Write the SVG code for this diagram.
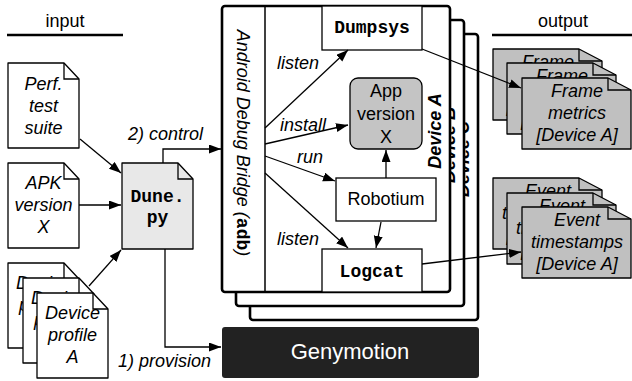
<svg xmlns="http://www.w3.org/2000/svg" width="632" height="381" viewBox="0 0 632 381">
<style>
.t{font-family:"Liberation Sans",Arial,sans-serif;font-size:18px;fill:#000}
.i{font-style:italic}
.c{text-anchor:middle}
.m{font-family:"Liberation Mono","Courier New",monospace;font-weight:bold;font-size:18px}
.doc{stroke:#000;stroke-width:1.3;stroke-linejoin:round}
.fold{fill:none;stroke:#000;stroke-width:1.3}
.w{fill:#fff}
.g{fill:#c0c0c0}
.panel{fill:#fff;stroke:#000;stroke-width:2.6}
.box{fill:#fff;stroke:#000;stroke-width:1.3}
.hd{stroke:#000;stroke-width:2.6}
.cn{fill:none;stroke:#000;stroke-width:1.3}
</style>
<defs>
<marker id="ah" markerUnits="userSpaceOnUse" markerWidth="13" markerHeight="10" refX="12" refY="4.5" orient="auto">
<path d="M0,0 L12,4.5 L0,9 Z" fill="#000"/>
</marker>
</defs>

<g id="headers">
<text class="t c" x="65" y="27">input</text>
<line class="hd" x1="7" y1="35" x2="123" y2="35"/>
<text class="t c" x="563" y="27">output</text>
<line class="hd" x1="492" y1="35" x2="632" y2="35"/>
</g>

<g id="perf-test-suite">
<path class="doc w" d="M8,63 H64 L79,79 V148 H8 Z"/>
<path class="fold" d="M64,63 V79 H79"/>
<text class="t i c" x="43.5" y="90">Perf.</text>
<text class="t i c" x="43.5" y="112">test</text>
<text class="t i c" x="43.5" y="134">suite</text>
</g>

<g id="apk-version">
<path class="doc w" d="M8,163 H64 L79,179 V248 H8 Z"/>
<path class="fold" d="M64,163 V179 H79"/>
<text class="t i c" x="43.5" y="189">APK</text>
<text class="t i c" x="43.5" y="211">version</text>
<text class="t i c" x="43.5" y="233">X</text>
</g>

<g id="device-profiles">
<path class="doc w" d="M8,263 H64 L79,279 V348 H8 Z"/>
<path class="fold" d="M64,263 V279 H79"/>
<text class="t i c" x="43.5" y="289">Device</text>
<text class="t i c" x="43.5" y="311">profile</text>
<text class="t i c" x="43.5" y="333">C</text>
<path class="doc w" d="M23,278 H79 L94,294 V363 H23 Z"/>
<path class="fold" d="M79,278 V294 H94"/>
<text class="t i c" x="58.5" y="304">Device</text>
<text class="t i c" x="58.5" y="326">profile</text>
<text class="t i c" x="58.5" y="348">B</text>
<path class="doc w" d="M37,293 H93 L108,309 V378 H37 Z"/>
<path class="fold" d="M93,293 V309 H108"/>
<text class="t i c" x="72.5" y="319">Device</text>
<text class="t i c" x="72.5" y="341">profile</text>
<text class="t i c" x="72.5" y="363">A</text>
</g>

<g id="dune-py">
<path class="doc" fill="#e8e8e8" d="M122,163 H178 L193,179 V249 H122 Z"/>
<path class="fold" d="M178,163 V179 H193"/>
<text class="m c" x="157.5" y="202">Dune.</text>
<text class="m c" x="157.5" y="223">py</text>
</g>

<g id="device-c">
<rect class="panel" x="250" y="34" width="228" height="286" rx="3"/>
<text class="t i c" font-weight="bold" transform="translate(469,159) rotate(-90)">Device C</text>
</g>
<g id="device-b">
<rect class="panel" x="236" y="20" width="228" height="286" rx="3"/>
<text class="t i c" font-weight="bold" transform="translate(455,145) rotate(-90)">Device B</text>
</g>
<g id="device-a">
<rect class="panel" x="222" y="6" width="228" height="286" rx="3"/>
<line x1="265" y1="6" x2="265" y2="292" stroke="#000" stroke-width="1.5"/>
<text class="t i c" font-weight="bold" transform="translate(441,131) rotate(-90)">Device A</text>
</g>

<g id="adb">
<text class="t i c" transform="translate(237,143) rotate(90)">Android Debug Bridge (<tspan class="m" font-style="normal">adb</tspan>)</text>
</g>

<g id="dumpsys">
<rect class="box" x="322" y="6" width="100" height="44"/>
<text class="m c" x="372" y="33">Dumpsys</text>
</g>

<g id="app-version">
<rect x="350" y="78" width="72" height="71" rx="8" fill="#c4c4c4" stroke="#000" stroke-width="1.3"/>
<text class="t c" x="386" y="97">App</text>
<text class="t c" x="386" y="120">version</text>
<text class="t c" x="386" y="143">X</text>
</g>

<g id="robotium">
<rect class="box" x="336" y="178" width="100" height="43"/>
<text class="t c" x="386" y="205">Robotium</text>
</g>

<g id="logcat">
<rect class="box" x="322" y="249" width="100" height="43"/>
<text class="m c" x="372" y="277">Logcat</text>
</g>

<g id="genymotion">
<rect x="222" y="327" width="257" height="51" rx="3" fill="#222"/>
<text class="t c" x="350" y="359" font-size="22" fill="#fff" style="fill:#fff;font-size:22px">Genymotion</text>
</g>

<g id="frame-metrics">
<path class="doc g" d="M493,49 H579 L602,61 V120 H493 Z"/>
<path class="fold" d="M579,49 V61 H602"/>
<text class="t i c" x="548" y="68">Frame</text>
<text class="t i c" x="548" y="90">metrics</text>
<text class="t i c" x="548" y="112">[Device C]</text>
<path class="doc g" d="M507,63 H593 L616,75 V134 H507 Z"/>
<path class="fold" d="M593,63 V75 H616"/>
<text class="t i c" x="562" y="82">Frame</text>
<text class="t i c" x="562" y="104">metrics</text>
<text class="t i c" x="562" y="126">[Device B]</text>
<path class="doc g" d="M522,78 H608 L631,90 V149 H522 Z"/>
<path class="fold" d="M608,78 V90 H631"/>
<text class="t i c" x="577" y="97">Frame</text>
<text class="t i c" x="577" y="119">metrics</text>
<text class="t i c" x="577" y="141">[Device A]</text>
</g>

<g id="event-timestamps">
<path class="doc g" d="M493,178 H579 L602,190 V249 H493 Z"/>
<path class="fold" d="M579,178 V190 H602"/>
<text class="t i c" x="548" y="197">Event</text>
<text class="t i c" x="548" y="219">timestamps</text>
<text class="t i c" x="548" y="241">[Device C]</text>
<path class="doc g" d="M507,193 H593 L616,205 V264 H507 Z"/>
<path class="fold" d="M593,193 V205 H616"/>
<text class="t i c" x="562" y="212">Event</text>
<text class="t i c" x="562" y="234">timestamps</text>
<text class="t i c" x="562" y="256">[Device B]</text>
<path class="doc g" d="M522,207 H608 L631,219 V278 H522 Z"/>
<path class="fold" d="M608,207 V219 H631"/>
<text class="t i c" x="577" y="226">Event</text>
<text class="t i c" x="577" y="248">timestamps</text>
<text class="t i c" x="577" y="270">[Device A]</text>
</g>

<g id="connectors">
<path class="cn" marker-end="url(#ah)" d="M80,139 L121,173"/>
<path class="cn" marker-end="url(#ah)" d="M79,205 L121,205"/>
<path class="cn" marker-end="url(#ah)" d="M89,286 L121,250"/>
<path class="cn" marker-end="url(#ah)" d="M163,163 V149 H221"/>
<path class="cn" marker-end="url(#ah)" d="M165,249 V347 H221"/>
<path class="cn" marker-end="url(#ah)" d="M265,128 L348,50"/>
<path class="cn" marker-end="url(#ah)" d="M265,144 L348,125"/>
<path class="cn" marker-end="url(#ah)" d="M265,156 L335,181"/>
<path class="cn" marker-end="url(#ah)" d="M265,173 L348,248"/>
<path class="cn" marker-end="url(#ah)" d="M386,178 L386,150"/>
<path class="cn" marker-end="url(#ah)" d="M381,222 L376,248"/>
<path class="cn" marker-end="url(#ah)" d="M422,49 L521,88"/>
<path class="cn" marker-end="url(#ah)" d="M422,264 L521,252"/>
<text class="t i" x="128" y="140">2) control</text>
<text class="t i" x="118" y="367">1) provision</text>
<text class="t i" x="277" y="69">listen</text>
<text class="t i" x="280" y="131">install</text>
<text class="t i" x="297" y="163">run</text>
<text class="t i" x="277" y="245">listen</text>
</g>
</svg>
